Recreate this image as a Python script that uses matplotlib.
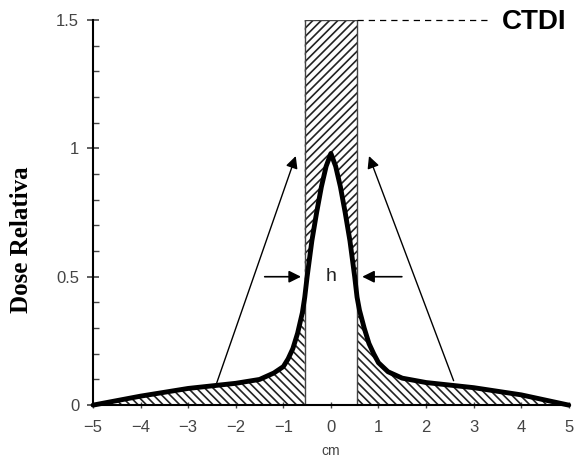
import numpy as np
import matplotlib.pyplot as plt

plt.rcParams['hatch.linewidth'] = 1.2

# dose profile (cm, relative dose)
pos = [-5, -4, -3, -2, -1.5, -1.2, -1.0, -0.9, -0.8, -0.7, -0.6, -0.55, -0.5, -0.4, -0.3, -0.2, -0.1, 0,
       0.1, 0.2, 0.3, 0.4, 0.5, 0.55, 0.6, 0.7, 0.8, 0.9, 1.0, 1.2, 1.5, 2, 3, 4, 5]
dose = [0, 0.035, 0.065, 0.085, 0.1, 0.125, 0.15, 0.18, 0.22, 0.28, 0.36, 0.42, 0.5, 0.64, 0.75, 0.85, 0.93, 0.98,
        0.93, 0.85, 0.75, 0.64, 0.5, 0.42, 0.37, 0.3, 0.24, 0.2, 0.165, 0.13, 0.105, 0.088, 0.068, 0.04, 0]
ctdi = 1.5
slice_half = 0.55

pos = np.array(pos)
dose = np.array(dose)

fig = plt.figure(figsize=(5.78, 4.63), dpi=100)
ax = fig.add_axes([0.161, 0.125, 0.823, 0.832])

# hatched tails
ax.fill_between(pos, 0, dose, where=pos <= -slice_half, facecolor='white', edgecolor='#222222',
                hatch='\\\\\\\\', linewidth=0, interpolate=True)
ax.fill_between(pos, 0, dose, where=pos >= slice_half, facecolor='white', edgecolor='#222222',
                hatch='\\\\\\\\', linewidth=0, interpolate=True)
# hatched CTDI rectangle minus area under curve
inside = np.abs(pos) <= slice_half
ax.fill_between(pos[inside], dose[inside], ctdi, facecolor='white', edgecolor='#222222',
                hatch='////', linewidth=0)
ax.plot([-slice_half, -slice_half, slice_half, slice_half], [0, ctdi, ctdi, 0], color='#444444', lw=1)

ax.plot(pos, dose, color='black', lw=3.5, solid_capstyle='round', solid_joinstyle='round', clip_on=False)

# dashed CTDI line and label
ax.plot([slice_half, 3.35], [ctdi, ctdi], color='black', lw=0.9, ls=(0, (5, 4)), clip_on=False)
ax.text(3.6, ctdi - 0.01, 'CTDI', fontsize=20, fontweight='bold', family='Liberation Sans', va='center', ha='left')

# diagonal arrows
ax.annotate('', xy=(-0.72, 0.98), xytext=(-2.45, 0.06),
            arrowprops=dict(arrowstyle='-|>', color='black', lw=1, mutation_scale=18))
ax.annotate('', xy=(0.78, 0.98), xytext=(2.6, 0.085),
            arrowprops=dict(arrowstyle='-|>', color='black', lw=1, mutation_scale=18))

# h arrows
ax.annotate('', xy=(-0.57, 0.5), xytext=(-1.45, 0.5),
            arrowprops=dict(arrowstyle='-|>', color='black', lw=1.2, mutation_scale=18))
ax.annotate('', xy=(0.6, 0.5), xytext=(1.55, 0.5),
            arrowprops=dict(arrowstyle='-|>', color='black', lw=1.2, mutation_scale=18))
ax.text(0.0, 0.5, 'h', fontsize=14, family='Liberation Sans', ha='center', va='center', color='#222222')

ax.set_xlim(-5, 5)
ax.set_ylim(0, 1.5)
ax.set_xticks(range(-5, 6))
ax.set_yticks([0, 0.5, 1, 1.5])
ax.set_yticklabels(['0', '0.5', '1', '1.5'])
ax.set_yticks(np.arange(0, 1.51, 0.1), minor=True)
ax.tick_params(axis='y', which='major', direction='inout', length=8, width=1.2, labelsize=12,
               colors='#444444', pad=6)
ax.tick_params(axis='y', which='minor', direction='in', length=4, width=1, colors='#444444')
ax.tick_params(axis='x', direction='inout', length=5, width=1, labelsize=12, colors='#444444', pad=8)
for lab in ax.get_xticklabels() + ax.get_yticklabels():
    lab.set_family('Liberation Sans')
ax.spines['top'].set_visible(False)
ax.spines['right'].set_visible(False)
ax.spines['left'].set_linewidth(1.5)
ax.spines['bottom'].set_linewidth(1.5)

ax.set_xlabel('cm', fontsize=10, family='Liberation Sans', color='#444444')
ax.xaxis.set_label_coords(0.5, -0.1)
ax.set_ylabel('Dose Relativa', fontsize=18, fontweight='bold', family='Liberation Serif')
ax.yaxis.set_label_coords(-0.126, 0.43)

fig.savefig('out.png', dpi=100)
